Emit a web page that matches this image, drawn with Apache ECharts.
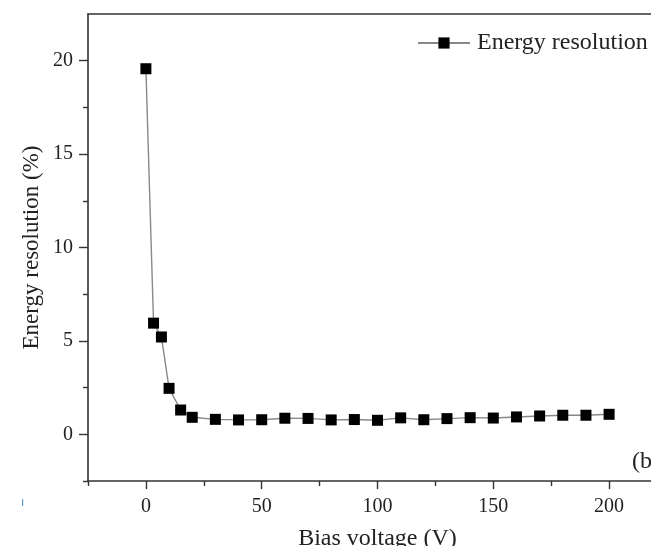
<!DOCTYPE html>
<html>
<head>
<meta charset="utf-8">
<style>html,body{margin:0;padding:0;background:#fff}#c{width:651px;height:546px}</style>
<script src="https://cdn.jsdelivr.net/npm/echarts@6/dist/echarts.min.js"></script>
</head>
<body>
<div id="c"></div>
<script>
var voltage = [0, 3.3, 6.7, 10, 15, 20, 30, 40, 50, 60, 70, 80, 90, 100, 110, 120, 130, 140, 150, 160, 170, 180, 190, 200];
var resolution = [19.57, 5.95, 5.21, 2.46, 1.30, 0.91, 0.80, 0.77, 0.78, 0.86, 0.85, 0.77, 0.79, 0.75, 0.88, 0.78, 0.84, 0.89, 0.87, 0.93, 0.98, 1.02, 1.02, 1.07];
var xMajorTicks = [0, 50, 100, 150, 200];
var xMinorTicks = [-25, 25, 75, 125, 175];
var yMajorTicks = [0, 5, 10, 15, 20];
var yMinorTicks = [-2.5, 2.5, 7.5, 12.5, 17.5];

var FONT = "'Liberation Serif','Times New Roman',serif";
var AX = '#333';
var chart = echarts.init(document.getElementById('c'));
var pts = voltage.map(function (v, i) { return [v, resolution[i]]; });
chart.setOption({
  animation: false,
  backgroundColor: '#fff',
  grid: { left: 88, top: 14, width: 579, height: 467, outerBoundsMode: 'none', containLabel: false },
  legend: {
    left: 412, top: 26,
    itemWidth: 52, itemHeight: 14, itemGap: 0,
    textStyle: { fontFamily: FONT, fontSize: 24, color: '#222', padding: [0, 0, 0, 2] },
    data: ['Energy resolution']
  },
  xAxis: [{
    type: 'value', min: -25, max: 225, interval: 25,
    name: 'Bias voltage (V)', nameLocation: 'middle', nameGap: 46,
    nameTextStyle: { fontFamily: FONT, fontSize: 24, color: '#222' },
    axisLine: { show: true, onZero: false, lineStyle: { color: AX, width: 1.6 } },
    axisTick: { show: true, customValues: xMajorTicks, length: 8, lineStyle: { color: AX, width: 1.4 } },
    axisLabel: { customValues: xMajorTicks, fontFamily: FONT, fontSize: 20, color: '#222', margin: 16 },
    splitLine: { show: false }
  }, {
    type: 'value', min: -25, max: 225, interval: 25, position: 'bottom',
    axisLine: { show: false, onZero: false },
    axisTick: { show: true, customValues: xMinorTicks, length: 5, lineStyle: { color: AX, width: 1.4 } },
    axisLabel: { show: false }, splitLine: { show: false }
  }, {
    type: 'value', min: -25, max: 225, interval: 25, position: 'top',
    axisLine: { show: true, onZero: false, lineStyle: { color: AX, width: 1.6 } },
    axisTick: { show: false }, axisLabel: { show: false }, splitLine: { show: false }
  }],
  yAxis: [{
    type: 'value', min: -2.5, max: 22.5, interval: 2.5,
    name: 'Energy resolution (%)', nameLocation: 'middle', nameGap: 45, nameRotate: 90,
    nameMoveOverlap: false,
    nameTextStyle: { fontFamily: FONT, fontSize: 23, color: '#222' },
    axisLine: { show: true, onZero: false, lineStyle: { color: AX, width: 1.6 } },
    axisTick: { show: true, customValues: yMajorTicks, length: 9, lineStyle: { color: AX, width: 1.4 } },
    axisLabel: { customValues: yMajorTicks, fontFamily: FONT, fontSize: 20, color: '#222', margin: 15 },
    splitLine: { show: false }
  }, {
    type: 'value', min: -2.5, max: 22.5, interval: 2.5, position: 'left',
    axisLine: { show: false, onZero: false },
    axisTick: { show: true, customValues: yMinorTicks, length: 5, lineStyle: { color: AX, width: 1.4 } },
    axisLabel: { show: false }, splitLine: { show: false }
  }],
  series: [{
    name: 'Energy resolution', type: 'line', data: pts,
    symbol: 'rect', symbolSize: 11,
    itemStyle: { color: '#000' },
    lineStyle: { color: '#888', width: 1.4 }
  }],
  graphic: [
    { type: 'text', left: 632, top: 450, style: { text: '(b)', fontFamily: FONT, fontSize: 24, fill: '#222' } },
    { type: 'rect', shape: { x: 22, y: 499, width: 1.2, height: 7 }, style: { fill: '#5b9bd5' } }
  ]
});
</script>
</body>
</html>
